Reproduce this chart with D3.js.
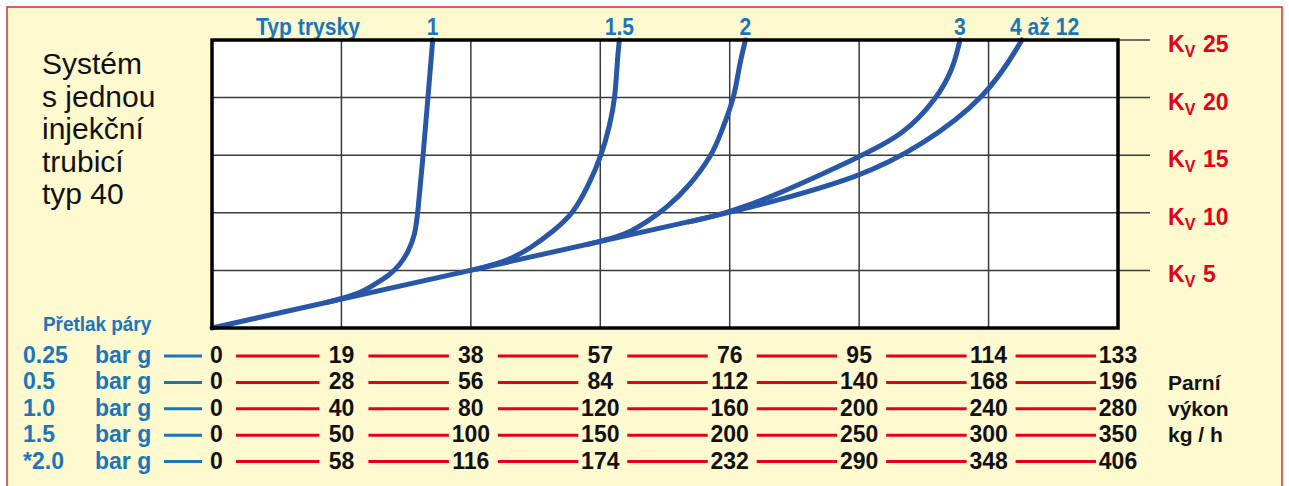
<!DOCTYPE html>
<html lang="cs">
<head>
<meta charset="utf-8">
<title>Systém s jednou injekční trubicí typ 40</title>
<script src="https://cdn.jsdelivr.net/npm/d3@7"></script>
<style>
    body { margin: 0; background: #fff; }
    svg text { font-family: "Liberation Sans", Arial, Helvetica, sans-serif; }
    .titleLine { font-size: 30px; fill: #111; }
    .blueLabel { font-weight: bold; fill: #1b75bb; }
    .kvLabel { font-weight: bold; fill: #e2001a; font-size: 23px; }
    .outputNum { font-weight: bold; font-size: 23px; fill: #111; }
    .unitLabel { font-weight: bold; font-size: 21px; fill: #111; }
    .gridLine { stroke: #3b3b3b; stroke-width: 1.5; }
    .kvCurve { fill: none; stroke: #2757a6; stroke-width: 5; stroke-linecap: round; stroke-linejoin: round; }
</style>
</head>
<body>
<div id="kv-chart"></div>
<script>

// text of the left title block
const titleLines = ["Systém", "s jednou", "injekční", "trubicí", "typ 40"];

// Kv values on the right hand axis
const kvTicks = [5, 10, 15, 20, 25];

// steam pressure rows and their steam output scale (kg/h)
const pressures = ["0.25", "0.5", "1.0", "1.5", "*2.0"];
const output025 = [0, 19, 38, 57, 76, 95, 114, 133];
const output05 = [0, 28, 56, 84, 112, 140, 168, 196];
const output10 = [0, 40, 80, 120, 160, 200, 240, 280];
const output15 = [0, 50, 100, 150, 200, 250, 300, 350];
const output20 = [0, 58, 116, 174, 232, 290, 348, 406];
const outputUnit = ["Parní", "výkon", "kg / h"];

// nozzle curves, points as [kg/h at 0.25 bar g, Kv]
const nozzleTypes = ["1", "1.5", "2", "3", "4 až 12"];
const nozzle1 = [[17, 2.24], [21.7, 3.0], [23.7, 3.73], [26.1, 4.6], [27.6, 5.5], [28.8, 6.6], [29.8, 8.07],
    [30.2, 9.9], [31.0, 15.0], [31.7, 20.0], [32.4, 25]];
const nozzle15 = [[39, 5.13], [43.3, 5.8], [46.7, 6.9], [50.1, 8.4], [53.0, 9.9], [55.3, 12.4], [57.2, 15.0],
    [58.4, 17.6], [59.2, 20.0], [59.5, 23.3], [59.8, 25]];
const nozzle2 = [[55, 7.24], [59.5, 7.9], [61.4, 8.36], [63.8, 9.2], [66.7, 10.4], [70.2, 12.4], [73.4, 15.0],
    [74.6, 16.75], [76.7, 20.0], [77.3, 22.5], [78.3, 25]];
const nozzle3 = [[70, 9.21], [74.6, 9.82], [81.9, 11.26], [95.1, 14.87], [101.5, 16.75], [106.4, 19.9],
    [108.8, 22.5], [109.8, 25]];
const nozzle4to12 = [[0, 0], [38.3, 5.05], [76, 10.0], [81.9, 10.9], [95.1, 13.1], [103.9, 15.7],
    [113.9, 20.1], [118.9, 25]];


class Nomogram {

    constructor(_parentElement) {
        this.parentElement = _parentElement;
        this.displayCurves = [];
        this.displayRows = [];

        this.initVis();
    }

    initVis() {

        let vis = this;

        vis.width = 1289;
        vis.height = 486;

        // plot frame
        vis.frame = {left: 212, right: 1118, top: 40, bottom: 328};

        vis.svg = d3.select("#" + vis.parentElement).append("svg")
            .attr("width", vis.width)
            .attr("height", vis.height);

        // cream page with thin red border
        vis.svg.append("rect")
            .attr("x", 7)
            .attr("y", 7)
            .attr("width", 1275)
            .attr("height", 495)
            .attr("fill", "#fef9cf")
            .attr("stroke", "#e2263a")
            .attr("stroke-width", 1.5);

        // scales - x in kg/h at 0.25 bar g, y in Kv
        vis.x = d3.scaleLinear()
            .domain([0, d3.max(output025)])
            .range([vis.frame.left, vis.frame.right]);

        vis.y = d3.scaleLinear()
            .domain([0, d3.max(kvTicks)])
            .range([vis.frame.bottom, vis.frame.top]);

        // white plot area
        vis.svg.append("rect")
            .attr("x", vis.frame.left)
            .attr("y", vis.frame.top)
            .attr("width", vis.frame.right - vis.frame.left)
            .attr("height", vis.frame.bottom - vis.frame.top)
            .attr("fill", "white");

        // vertical grid
        vis.svg.selectAll(".vGrid")
            .data(output025.slice(1, -1))
            .enter()
            .append("line")
            .attr("class", "gridLine vGrid")
            .attr("x1", d => vis.x(d))
            .attr("x2", d => vis.x(d))
            .attr("y1", vis.frame.top)
            .attr("y2", vis.frame.bottom);

        // horizontal grid, extended past the frame as Kv ticks
        vis.svg.selectAll(".hGrid")
            .data(kvTicks)
            .enter()
            .append("line")
            .attr("class", "gridLine hGrid")
            .attr("x1", vis.frame.left)
            .attr("x2", vis.frame.right + 32)
            .attr("y1", d => vis.y(d))
            .attr("y2", d => vis.y(d));

        // Kv labels with subscript V
        vis.kvLabelX = 1168;
        vis.svg.selectAll(".kvLabel")
            .data(kvTicks)
            .enter()
            .append("text")
            .attr("class", "kvLabel")
            .attr("x", vis.kvLabelX)
            .attr("y", d => vis.y(d) + 12)
            .each(function(d) {
                let t = d3.select(this);
                t.append("tspan").text("K");
                t.append("tspan").attr("font-size", 16).attr("dy", 5).text("V");
                t.append("tspan").attr("x", vis.kvLabelX + 35).attr("dy", -5).text(d);
            });

        // title block
        vis.svg.selectAll(".titleLine")
            .data(titleLines)
            .enter()
            .append("text")
            .attr("class", "titleLine")
            .attr("x", 42)
            .attr("y", (d, i) => 74 + i * 32.6)
            .text(d => d);

        vis.svg.append("text")
            .attr("class", "blueLabel")
            .attr("x", 256)
            .attr("y", 35)
            .attr("font-size", 24)
            .text("Typ trysky")
            .call(vis.condense, 0.88);

        vis.svg.append("text")
            .attr("class", "blueLabel")
            .attr("x", 43)
            .attr("y", 331)
            .attr("font-size", 21)
            .text("Přetlak páry")
            .call(vis.condense, 0.9);

        // unit label on the right of the output rows
        vis.svg.selectAll(".unitLabel")
            .data(outputUnit)
            .enter()
            .append("text")
            .attr("class", "unitLabel")
            .attr("x", 1168)
            .attr("y", (d, i) => 389.5 + i * 26.3)
            .text(d => d);

        vis.wrangleData();
    }

    // shrink text horizontally to mimic the condensed face
    condense(sel, k) {
        sel.each(function() {
            let w = this.getComputedTextLength();
            d3.select(this)
                .attr("textLength", w * k)
                .attr("lengthAdjust", "spacingAndGlyphs");
        });
    }

    wrangleData() {

        let vis = this;

        let curves = [nozzle1, nozzle15, nozzle2, nozzle3, nozzle4to12];
        vis.displayCurves = nozzleTypes.map((name, i) => {
            return {name: name, points: curves[i]};
        });

        // one linear output scale per pressure row, all spanning the frame width
        let outputs = [output025, output05, output10, output15, output20];
        vis.displayRows = pressures.map((p, i) => {
            return {
                pressure: p,
                values: outputs[i],
                x: d3.scaleLinear()
                    .domain([0, d3.max(outputs[i])])
                    .range([vis.frame.left, vis.frame.right])
            };
        });

        vis.updateVis();
    }

    updateVis() {

        let vis = this;

        // basis curve smooths the hand-read points
        let line = d3.line()
            .x(d => vis.x(d[0]))
            .y(d => vis.y(d[1]))
            .curve(d3.curveBasis);

        vis.svg.selectAll(".kvCurve")
            .data(vis.displayCurves)
            .enter()
            .append("path")
            .attr("class", "kvCurve")
            .attr("d", d => line(d.points));

        // frame drawn over the curves
        vis.svg.append("rect")
            .attr("x", vis.frame.left)
            .attr("y", vis.frame.top)
            .attr("width", vis.frame.right - vis.frame.left)
            .attr("height", vis.frame.bottom - vis.frame.top)
            .attr("fill", "none")
            .attr("stroke", "black")
            .attr("stroke-width", 3.5);

        // nozzle type labels above the end of each curve
        let last = vis.displayCurves.length - 1;
        vis.svg.selectAll(".nozzleLabel")
            .data(vis.displayCurves)
            .enter()
            .append("text")
            .attr("class", "blueLabel nozzleLabel")
            .attr("font-size", 24)
            .attr("x", (d, i) => vis.x(d.points[d.points.length - 1][0]) + (i === last ? -12 : 0))
            .attr("y", 35)
            .attr("text-anchor", (d, i) => i === last ? "start" : "middle")
            .text(d => d.name)
            .call(vis.condense, 0.88);

        // pressure rows
        vis.rowY = d3.scalePoint()
            .domain(pressures)
            .range([363, 468.5]);

        let rows = vis.svg.selectAll(".outputRow")
            .data(vis.displayRows)
            .enter()
            .append("g")
            .attr("class", "outputRow")
            .attr("transform", d => `translate(0, ${vis.rowY(d.pressure)})`);

        rows.append("text")
            .attr("class", "blueLabel")
            .attr("font-size", 23)
            .attr("x", 23)
            .text(d => d.pressure);

        rows.append("text")
            .attr("class", "blueLabel")
            .attr("font-size", 23)
            .attr("x", 95)
            .text("bar g");

        rows.append("line")
            .attr("x1", 164)
            .attr("x2", 202)
            .attr("y1", -7)
            .attr("y2", -7)
            .attr("stroke", "#1b75bb")
            .attr("stroke-width", 3);

        // red connectors between the numbers
        rows.selectAll(".connector")
            .data(d => d3.pairs(d.values).map(p => ({a: p[0], b: p[1], x: d.x})))
            .enter()
            .append("line")
            .attr("class", "connector")
            .attr("x1", (d, i) => d.x(d.a) + (i === 0 ? 24 : 27))
            .attr("x2", d => d.x(d.b) - 22)
            .attr("y1", -7)
            .attr("y2", -7)
            .attr("stroke", "#e2001a")
            .attr("stroke-width", 3);

        rows.selectAll(".outputNum")
            .data(d => d.values.map(v => ({v: v, x: d.x})))
            .enter()
            .append("text")
            .attr("class", "outputNum")
            .attr("x", (d, i) => i === 0 ? d.x(d.v) - 2 : d.x(d.v))
            .attr("text-anchor", (d, i) => i === 0 ? "start" : "middle")
            .text(d => d.v);
    }
}

new Nomogram("kv-chart");

</script>
</body>
</html>
